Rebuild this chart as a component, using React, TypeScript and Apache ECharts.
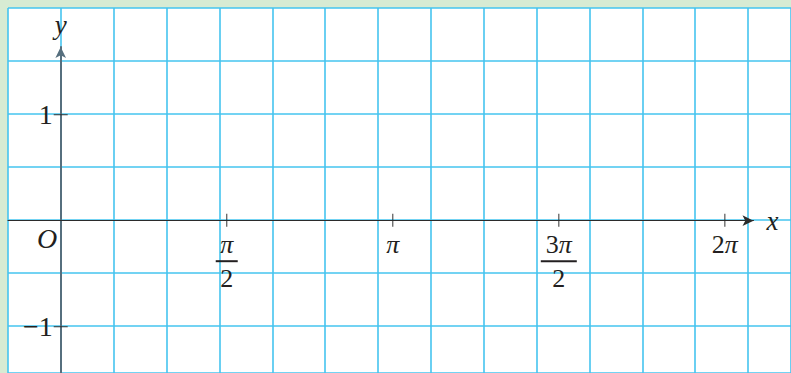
import React, { useEffect, useRef } from 'react';
import * as echarts from 'echarts';

// Tick positions (multiples of π/2 on x, ±1 on y) and their labels
const xTickValues = [Math.PI / 2, Math.PI, (3 * Math.PI) / 2, 2 * Math.PI];
const xTickLabels = ['π/2', 'π', '3π/2', '2π'];
const yTickValues = [-1, 1];
const yTickLabels = ['−1', '1'];
const axisNames = { x: 'x', y: 'y', origin: 'O' };

// Layout (pixels)
const W = 791;
const H = 373;
const PAPER_LEFT = 8;
const PAPER_TOP = 8;
const CELL_X = 52.86;
const CELL_Y = 53;
const ORIGIN_X = 60.7;
const ORIGIN_Y = 220.7;
const UNIT_X = 105.7;
const UNIT_Y = 106;
const X_AXIS_END = 753.5;
const Y_AXIS_END = 47;

const FONT = "'Liberation Serif', 'Times New Roman', serif";
const INK = '#231f20';
const GRID_CYAN = '#45c4ef';
const PAPER_GREEN = '#d7ebd3';

// "3π" -> upright digits + italic π
function numeratorRich(s: string): string {
  let out = '';
  for (const ch of s) out += ch === 'π' ? `{p|π}` : `{n|${ch}}`;
  return out;
}

function xLabel(value: number): string {
  let idx = 0;
  let best = Infinity;
  xTickValues.forEach((v, i) => {
    const d = Math.abs(v - value);
    if (d < best) {
      best = d;
      idx = i;
    }
  });
  const [num, den] = xTickLabels[idx].split('/');
  if (!den) return numeratorRich(num);
  const bar = num.length > 1 ? 'barL' : 'barS';
  return `${numeratorRich(num)}\n{${bar}| }\n${numeratorRich(den)}`;
}

function yLabel(value: number): string {
  const i = yTickValues.findIndex((v) => Math.abs(v - value) < 1e-6);
  return i >= 0 ? yTickLabels[i] : '';
}

const hiddenAxis = {
  type: 'value',
  min: 0,
  max: 1,
  show: false,
  splitLine: { show: false },
};

export default function App() {
  const ref = useRef<HTMLDivElement>(null);

  useEffect(() => {
    if (!ref.current) return;
    const chart = echarts.init(ref.current, undefined, { renderer: 'svg' });

    const xMin = (PAPER_LEFT - ORIGIN_X) / UNIT_X;
    const xMax = (X_AXIS_END - ORIGIN_X) / UNIT_X;
    const yMax = (ORIGIN_Y - Y_AXIS_END) / UNIT_Y;
    const yMin = (ORIGIN_Y - H) / UNIT_Y;

    const xText = { fontFamily: FONT, color: INK, fontSize: 26 };
    const bigText = { fontFamily: FONT, color: INK, fontSize: 28 };

    chart.setOption({
      animation: false,
      backgroundColor: PAPER_GREEN,
      grid: [
        {
          // graph paper
          left: PAPER_LEFT,
          top: PAPER_TOP,
          right: 0,
          bottom: 0,
          show: true,
          backgroundColor: '#ffffff',
          borderWidth: 0,
          outerBoundsMode: 'none',
          containLabel: false,
        },
        {
          // x-axis lies on the bottom edge of this grid
          left: PAPER_LEFT,
          right: W - X_AXIS_END,
          top: Y_AXIS_END,
          bottom: H - ORIGIN_Y,
          outerBoundsMode: 'none',
          containLabel: false,
        },
        {
          // y-axis lies on the left edge of this grid
          left: ORIGIN_X,
          right: W - X_AXIS_END,
          top: Y_AXIS_END,
          bottom: 0,
          outerBoundsMode: 'none',
          containLabel: false,
        },
      ],
      xAxis: [
        {
          type: 'value',
          gridIndex: 0,
          min: 0,
          max: (W - PAPER_LEFT) / CELL_X,
          interval: 1,
          axisLine: { show: false },
          axisTick: { show: false },
          axisLabel: { show: false },
          splitLine: { show: true, lineStyle: { color: GRID_CYAN, width: 1.6 } },
          z: 0,
        },
        {
          type: 'value',
          gridIndex: 1,
          position: 'bottom',
          min: xMin,
          max: xMax,
          name: axisNames.x,
          nameLocation: 'end',
          nameGap: 13,
          nameTextStyle: { ...bigText, fontSize: 27, fontStyle: 'italic', verticalAlign: 'middle' },
          axisLine: {
            show: true,
            onZero: false,
            symbol: ['none', 'arrow'],
            symbolSize: [8, 11],
            lineStyle: { color: '#2b2b2b', width: 1 },
          },
          axisTick: { show: false },
          splitLine: { show: false },
          axisLabel: {
            show: true,
            customValues: xTickValues,
            margin: 11,
            verticalAlign: 'top',
            formatter: (v: number) => xLabel(v),
            rich: {
              p: { ...xText, fontStyle: 'italic', lineHeight: 25, align: 'center' },
              n: { ...xText, lineHeight: 25, align: 'center' },
              barS: { width: 22, height: 2, lineHeight: 9, backgroundColor: INK, align: 'center', fontSize: 2 },
              barL: { width: 36, height: 2, lineHeight: 9, backgroundColor: INK, align: 'center', fontSize: 2 },
            },
          },
          z: 2,
        },
        { ...hiddenAxis, gridIndex: 2 },
      ],
      yAxis: [
        {
          type: 'value',
          gridIndex: 0,
          inverse: true,
          min: 0,
          max: (H - PAPER_TOP) / CELL_Y,
          interval: 1,
          axisLine: { show: false },
          axisTick: { show: false },
          axisLabel: { show: false },
          splitLine: { show: true, lineStyle: { color: GRID_CYAN, width: 1.6 } },
          z: 0,
        },
        { ...hiddenAxis, gridIndex: 1 },
        {
          type: 'value',
          gridIndex: 2,
          position: 'left',
          min: yMin,
          max: yMax,
          name: axisNames.y,
          nameLocation: 'end',
          nameGap: 9,
          nameTextStyle: { ...bigText, fontSize: 27, fontStyle: 'italic', align: 'center' },
          axisLine: {
            show: true,
            onZero: false,
            symbol: ['none', 'arrow'],
            symbolSize: [8, 11],
            lineStyle: { color: '#566f7e', width: 2 },
          },
          axisTick: { show: false },
          splitLine: { show: false },
          axisLabel: {
            show: true,
            customValues: yTickValues,
            margin: 8,
            ...bigText,
            padding: [6, 0, 0, 0],
            formatter: (v: number) => yLabel(v),
          },
          z: 2,
        },
      ],
      series: [
        {
          // tick marks crossing the x-axis
          type: 'scatter',
          xAxisIndex: 1,
          yAxisIndex: 1,
          silent: true,
          clip: false,
          symbol: 'rect',
          symbolSize: [1.2, 13],
          symbolOffset: [0, -0.5],
          itemStyle: { color: '#2b2b2b' },
          data: xTickValues.map((v) => [v, 0]),
          z: 3,
        },
        {
          // tick marks crossing the y-axis
          type: 'scatter',
          xAxisIndex: 2,
          yAxisIndex: 2,
          silent: true,
          clip: false,
          symbol: 'rect',
          symbolSize: [14, 1.2],
          itemStyle: { color: '#2b2b2b' },
          data: yTickValues.map((v) => [0, v]),
          z: 3,
        },
      ],
      graphic: [
        {
          type: 'text',
          x: 47,
          y: 238,
          z: 5,
          style: {
            text: axisNames.origin,
            font: `italic 28px ${FONT}`,
            fill: INK,
            align: 'center',
            verticalAlign: 'middle',
          },
        },
      ],
    });

    return () => chart.dispose();
  }, []);

  return (
    <div
      ref={ref}
      style={{ position: 'absolute', left: 0, top: 0, width: W, height: H }}
    />
  );
}
